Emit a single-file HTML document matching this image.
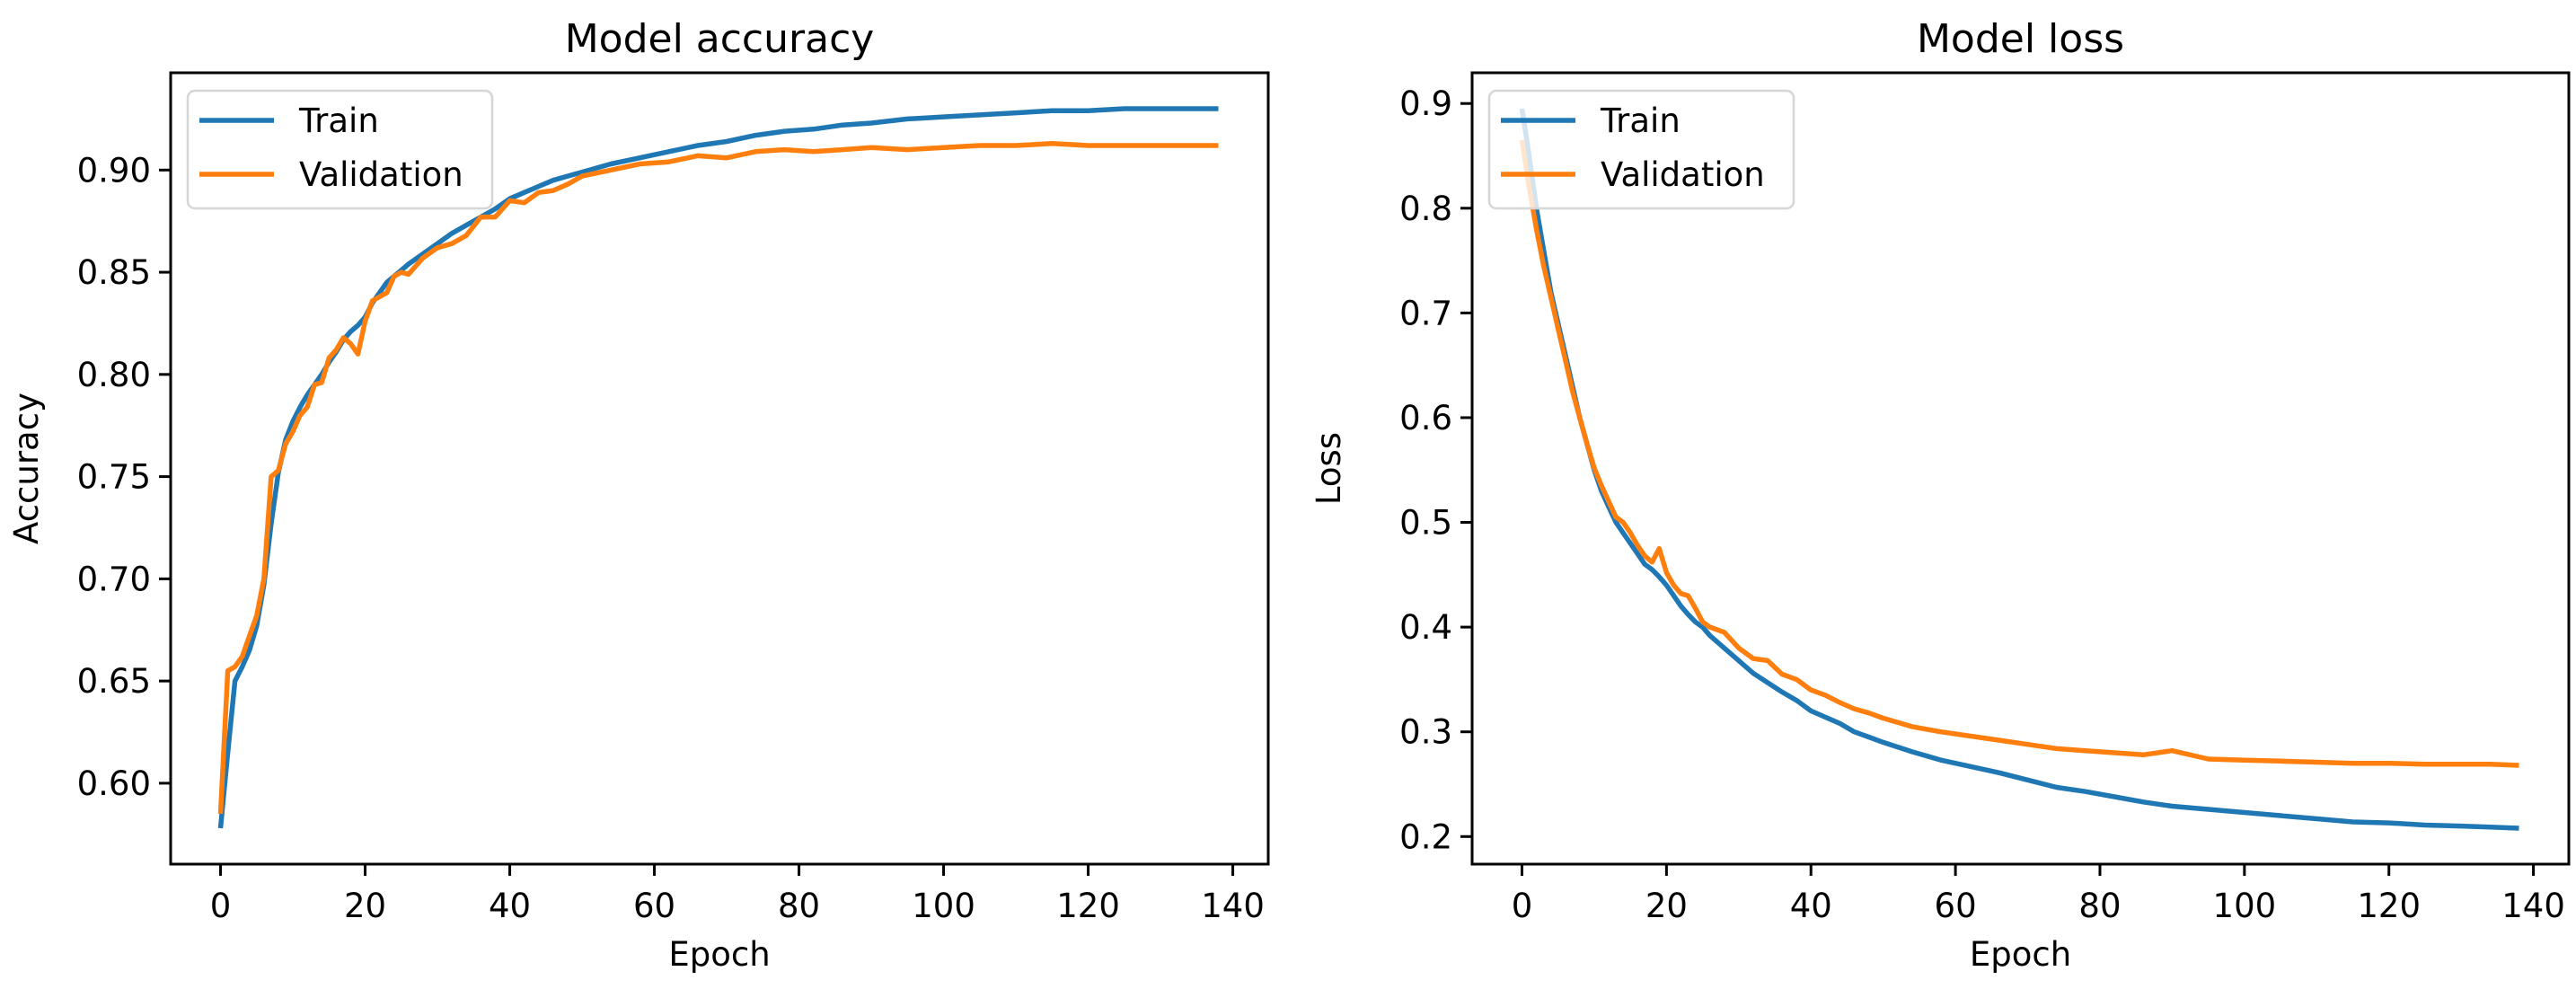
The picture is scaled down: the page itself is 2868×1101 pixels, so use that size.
<!DOCTYPE html>
<html><head><meta charset="utf-8"><style>
html,body{margin:0;padding:0;background:#fff;}
svg{display:block;font-family:"DejaVu Sans","Liberation Sans",sans-serif;}
</style></head><body>
<svg id="fig" width="2868" height="1101" viewBox="0 0 2868 1101" xmlns="http://www.w3.org/2000/svg">
<rect width="2868" height="1101" fill="#fff"/>
</svg>
<script>
const epochs=[0,1,2,3,4,5,6,7,8,9,10,11,12,13,14,15,16,17,18,19,20,21,22,23,24,25,26,28,30,32,34,36,38,40,42,44,46,48,50,54,58,62,66,70,74,78,82,86,90,95,100,105,110,115,120,125,130,134,138];
const trainAcc=[.578,.615,.650,.657,.665,.677,.697,.727,.752,.768,.777,.784,.790,.795,.800,.806,.811,.817,.821,.824,.828,.835,.840,.845,.848,.851,.854,.859,.864,.869,.873,.877,.881,.886,.889,.892,.895,.897,.899,.903,.906,.909,.912,.914,.917,.919,.920,.922,.923,.925,.926,.927,.928,.929,.929,.930,.930,.930,.930];
const valAcc=[.585,.655,.657,.662,.672,.682,.700,.750,.753,.766,.772,.780,.784,.795,.796,.808,.812,.818,.815,.810,.826,.836,.838,.840,.848,.850,.849,.857,.862,.864,.868,.877,.877,.885,.884,.889,.890,.893,.897,.900,.903,.904,.907,.906,.909,.910,.909,.910,.911,.910,.911,.912,.912,.913,.912,.912,.912,.912,.912];
const trainLoss=[.895,.85,.80,.76,.72,.69,.66,.63,.60,.575,.55,.53,.515,.50,.49,.48,.47,.46,.455,.448,.44,.43,.42,.412,.405,.40,.392,.38,.368,.356,.347,.338,.330,.320,.314,.308,.300,.295,.290,.281,.273,.267,.261,.254,.247,.243,.238,.233,.229,.226,.223,.220,.217,.214,.213,.211,.210,.209,.208];
const valLoss=[.865,.82,.78,.745,.715,.685,.655,.625,.60,.575,.552,.535,.52,.505,.50,.49,.478,.468,.462,.475,.452,.44,.432,.43,.418,.405,.40,.395,.38,.37,.368,.355,.35,.34,.335,.328,.322,.318,.313,.305,.300,.296,.292,.288,.284,.282,.280,.278,.282,.274,.273,.272,.271,.270,.270,.269,.269,.269,.268];
const xTicks=[0,20,40,60,80,100,120,140];
const accTicks=[0.60,0.65,0.70,0.75,0.80,0.85,0.90];
const accTickLabels=["0.60","0.65","0.70","0.75","0.80","0.85","0.90"];
const lossTicks=[0.2,0.3,0.4,0.5,0.6,0.7,0.8,0.9];
const lossTickLabels=["0.2","0.3","0.4","0.5","0.6","0.7","0.8","0.9"];

const NS="http://www.w3.org/2000/svg";
const svg=document.getElementById('fig');
function mk(tag,attrs,parent){const e=document.createElementNS(NS,tag);for(const k in attrs)e.setAttribute(k,attrs[k]);(parent||svg).appendChild(e);return e;}

function panel(cfg){
  const g=mk('g',{});
  
  
  const L=cfg.left,R=cfg.right,T=81,B=962;
  const xmin=-6.9,xmax=144.9;
  const all=cfg.series.flatMap(s=>s.vals);
  const dmin=Math.min(...all),dmax=Math.max(...all),m=(dmax-dmin)*0.05;
  const ymin=dmin-m,ymax=dmax+m;
  const X=v=>L+(v-xmin)/(xmax-xmin)*(R-L);
  const Y=v=>B-(v-ymin)/(ymax-ymin)*(B-T);
  // series
  cfg.series.forEach(s=>{
    const p=mk('polyline',{points:epochs.map((e,i)=>X(e).toFixed(1)+','+Y(s.vals[i]).toFixed(1)).join(' '),fill:'none',stroke:s.color,'stroke-width':5.5,'stroke-linejoin':'round'},g);
    
    
  });
  // spines
  const f=mk('rect',{x:L,y:T,width:R-L,height:B-T,fill:'none',stroke:'#000','stroke-width':3},g);
  
  
  // x ticks
  xTicks.forEach(t=>{
    const x=X(t);
    mk('line',{x1:x,y1:B,x2:x,y2:B+13,stroke:'#000','stroke-width':3},g);
    const tx=mk('text',{x:x,y:1021,'font-size':37,'text-anchor':'middle',fill:'#000'},g);
    tx.textContent=String(t);
    
    
  });
  cfg.yTicks.forEach((t,i)=>{
    const y=Y(t);
    mk('line',{x1:L,y1:y,x2:L-13,y2:y,stroke:'#000','stroke-width':3},g);
    const tx=mk('text',{x:L-22,y:y+13,'font-size':37,'text-anchor':'end',fill:'#000'},g);
    tx.textContent=cfg.yLabels[i];
    
    
  });
  const xl=mk('text',{x:(L+R)/2,y:1075,'font-size':37,'text-anchor':'middle'},g);
  xl.textContent='Epoch';
  
  
  const yl=mk('text',{x:0,y:0,'font-size':37,'text-anchor':'middle',transform:`translate(${cfg.ylx},${(T+B)/2}) rotate(-90)`},g);
  yl.textContent=cfg.ylabel;
  
  
  const ti=mk('text',{x:(L+R)/2,y:58,'font-size':44,'text-anchor':'middle'},g);
  ti.textContent=cfg.title;
  
  
  // legend
  const lg=mk('g',{},g);
  
  
  mk('rect',{x:L+19,y:101,width:339,height:131,rx:8,fill:'#fff','fill-opacity':0.8,stroke:'#d6d6d6','stroke-width':2.5},lg);
  cfg.series.forEach((s,i)=>{
    const yy=134+i*60;
    const le=mk('g',{},lg);
    
    
    mk('line',{x1:L+32,y1:yy,x2:L+115,y2:yy,stroke:s.color,'stroke-width':5.5},le);
    const t=mk('text',{x:L+143,y:yy+13,'font-size':37},le);
    t.textContent=s.label;
  });
}
panel({name:'accuracy-chart',left:190,right:1412,title:'Model accuracy',ylabel:'Accuracy',ylx:42,
  yTicks:accTicks,yLabels:accTickLabels,
  series:[{id:'train-accuracy-line',label:'Train',color:'#1f77b4',vals:trainAcc},{id:'validation-accuracy-line',label:'Validation',color:'#ff7f0e',vals:valAcc}]});
panel({name:'loss-chart',left:1639,right:2860,title:'Model loss',ylabel:'Loss',ylx:1492,
  yTicks:lossTicks,yLabels:lossTickLabels,
  series:[{id:'train-loss-line',label:'Train',color:'#1f77b4',vals:trainLoss},{id:'validation-loss-line',label:'Validation',color:'#ff7f0e',vals:valLoss}]});
</script>
</body></html>
